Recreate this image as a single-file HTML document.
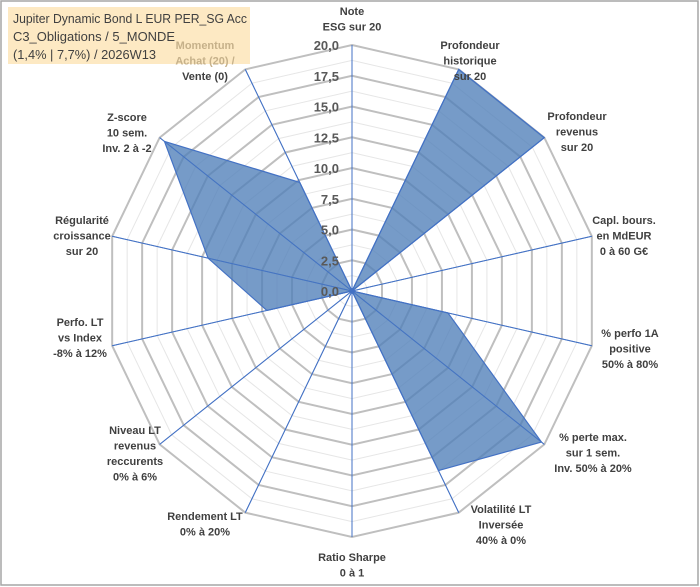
<!DOCTYPE html>
<html><head><meta charset="utf-8"><style>
html,body{margin:0;padding:0;background:#fff;}
svg{display:block;font-family:"Liberation Sans",sans-serif;}
</style></head><body>
<svg id="chart" width="700" height="587" viewBox="0 0 700 587">
<rect x="1" y="1" width="697" height="584" fill="#fff" stroke="#a6a6a6" stroke-width="1.5"/>
<g>
<rect x="8" y="7" width="242" height="57" fill="#fde9c3"/>
<text x="13" y="23" font-size="13" fill="#404040" textLength="234" lengthAdjust="spacingAndGlyphs">Jupiter Dynamic Bond L EUR PER_SG Acc</text>
<text x="13" y="41" font-size="13" fill="#404040" textLength="162" lengthAdjust="spacingAndGlyphs">C3_Obligations / 5_MONDE</text>
<text x="13" y="59" font-size="13" fill="#404040" textLength="143" lengthAdjust="spacingAndGlyphs">(1,4% | 7,7%) / 2026W13</text>
</g>
<g id="grid"></g>
<g id="series"></g>
<g id="ticks"></g>
<g id="labels"></g>
</svg>
<script>
const categories = [
 ["Note","ESG sur 20"],
 ["Profondeur","historique","sur 20"],
 ["Profondeur","revenus","sur 20"],
 ["Capl. bours.","en MdEUR","0 à 60 G€"],
 ["% perfo 1A","positive","50% à 80%"],
 ["% perte max.","sur 1 sem.","Inv. 50% à 20%"],
 ["Volatilité LT","Inversée","40% à 0%"],
 ["Ratio Sharpe","0 à 1"],
 ["Rendement LT","0% à 20%"],
 ["Niveau LT","revenus","reccurents","0% à 6%"],
 ["Perfo. LT","vs Index","-8% à 12%"],
 ["Régularité","croissance","sur 20"],
 ["Z-score","10 sem.","Inv. 2 à -2"],
 ["Momentum","Achat (20) /","Vente (0)"]
];
const values = [0, 20, 20, 0, 8, 19.7, 16.2, 0, 0, 0, 7.1, 12, 19.5, 9.8];
const tickLabels = ["0,0","2,5","5,0","7,5","10,0","12,5","15,0","17,5","20,0"];
const labelPos = [[352,11],[470,45],[577,116],[624,220],[630,333],[593,437],[501,509],[352,557],[205,516],[135,430],[80,322],[82,220],[127,117],[205,45]];
const CX=352, CY=291, R=246, MAX=20, N=categories.length;
const NS="http://www.w3.org/2000/svg";
function ang(i){return i*2*Math.PI/N;}
function pt(i,v){const r=v/MAX*R;return [CX+r*Math.sin(ang(i)), CY-r*Math.cos(ang(i))];}
function mk(tag,attrs,parent){const e=document.createElementNS(NS,tag);for(const k in attrs)e.setAttribute(k,attrs[k]);parent.appendChild(e);return e;}
const grid=document.getElementById('grid');
for(let s=1;s<=16;s++){
  const v=s*1.25;const pts=[];
  for(let i=0;i<N;i++)pts.push(pt(i,v).join(','));
  const major=s%2===0;
  const p=mk('polygon',{points:pts.join(' '),fill:'none',stroke:major?'#bfbfbf':'#e6e6e6','stroke-width':major?2:1},grid);
  
  
}
for(let i=0;i<N;i++){
  const e=pt(i,MAX);
  const l=mk('line',{x1:CX,y1:CY,x2:e[0],y2:e[1],stroke:'#4472c4','stroke-width':1},grid);
  
  
}
const ser=document.getElementById('series');
const sp=values.map((v,i)=>pt(i,v).join(',')).join(' ');
const poly=mk('polygon',{points:sp,fill:'#4f7fb9','fill-opacity':0.78,stroke:'#4472c4','stroke-width':1.2},ser);


for(let i=0;i<N;i++){
  const e=pt(i,MAX);
  const l=mk('line',{x1:CX,y1:CY,x2:e[0],y2:e[1],stroke:'#4472c4','stroke-width':1,'stroke-opacity':0.8},ser);
  
  
}
const tk=document.getElementById('ticks');
tickLabels.forEach((t,k)=>{
  const y=CY-k*2.5/MAX*R;
  const tx=mk('text',{x:339,y:y+5,'text-anchor':'end','font-size':13,'font-weight':'bold',fill:'#595959'},tk);
  tx.textContent=t;
  
  
});
const lb=document.getElementById('labels');
categories.forEach((lines,i)=>{
  const [x,y]=labelPos[i];
  const g=mk('text',{x:x,y:y+4,'text-anchor':'middle','font-size':11,'font-weight':'bold',fill:'#404040'},lb);
  
  
  lines.forEach((ln,j)=>{
    const ts=mk('tspan',{x:x,dy:j===0?0:15.5},g);
    if(i===13 && j<2) ts.setAttribute('fill','#c6b18a');
    ts.textContent=ln;
  });
});
</script>
</body></html>
